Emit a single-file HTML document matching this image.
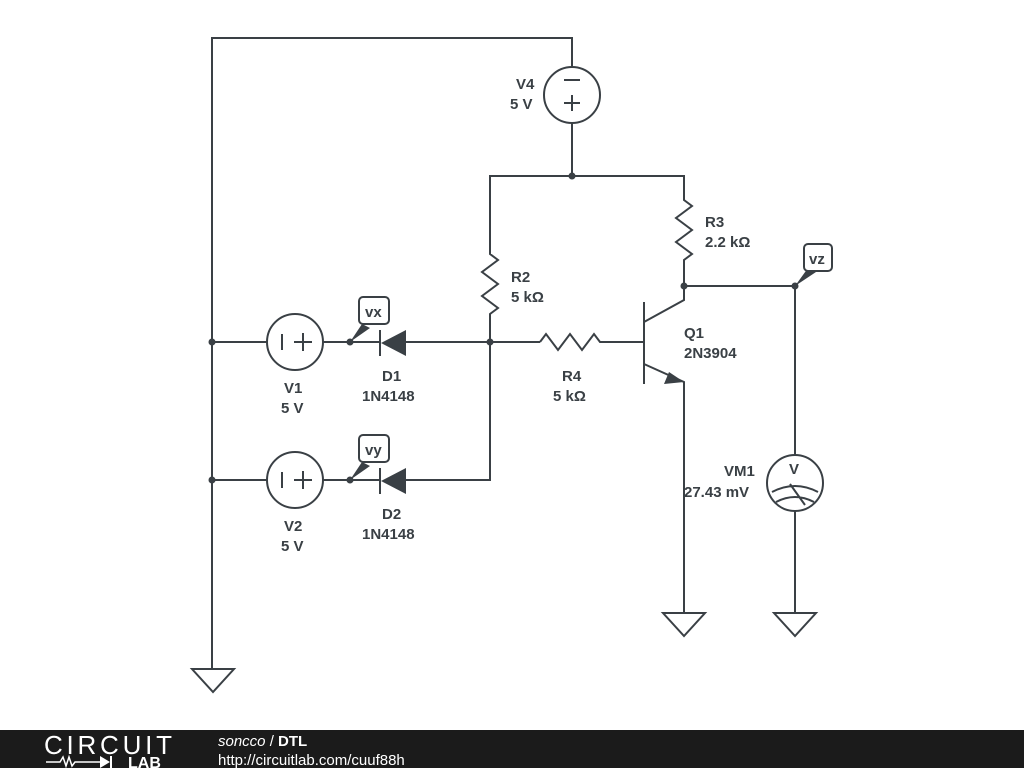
<!DOCTYPE html>
<html><head><style>
body{margin:0;background:#fff;width:1024px;height:768px;overflow:hidden;font-family:"Liberation Sans",sans-serif}
svg text{font-family:"Liberation Sans",sans-serif;font-weight:bold;font-size:15px;fill:#3a4045}
</style></head><body>
<svg width="1024" height="768" xmlns="http://www.w3.org/2000/svg">
<g stroke="#3a4045" stroke-width="2" fill="none">
<polyline points="212,668 212,38 572,38 572,67"/>
<polygon points="192,669 234,669 213,692"/>
<circle cx="572" cy="95" r="28"/>
<line x1="564" y1="80" x2="580" y2="80"/>
<line x1="564" y1="103" x2="580" y2="103"/><line x1="572" y1="95" x2="572" y2="111"/>
<line x1="572" y1="123" x2="572" y2="176"/>
<polyline points="490,250 490,176 684,176 684,195"/>
<polyline points="684,195 684,200 692,206 676,218 692,230 676,242 692,254 684,260 684,300 644,322"/>
<line x1="684" y1="286" x2="795" y2="286"/>
<polyline points="490,250 490,254 498,260 482,272 498,284 482,296 498,308 490,314 490,480 406,480"/>
<line x1="212" y1="342" x2="267" y2="342"/>
<circle cx="295" cy="342" r="28"/>
<line x1="282" y1="334" x2="282" y2="350"/><line x1="294" y1="342" x2="312" y2="342"/><line x1="303" y1="333" x2="303" y2="351"/>
<line x1="323" y1="342" x2="380" y2="342"/>
<line x1="380" y1="330" x2="380" y2="356"/>
<line x1="406" y1="342" x2="540" y2="342"/>
<polyline points="540,342 546,334 558,350 570,334 582,350 594,334 600,342 644,342"/>
<line x1="644" y1="302" x2="644" y2="384"/>
<polyline points="644,364 684,382 684,612"/>
<line x1="212" y1="480" x2="267" y2="480"/>
<circle cx="295" cy="480" r="28"/>
<line x1="282" y1="472" x2="282" y2="488"/><line x1="294" y1="480" x2="312" y2="480"/><line x1="303" y1="471" x2="303" y2="489"/>
<line x1="323" y1="480" x2="380" y2="480"/>
<line x1="380" y1="468" x2="380" y2="494"/>
<line x1="795" y1="286" x2="795" y2="455"/>
<circle cx="795" cy="483" r="28"/>
<line x1="795" y1="511" x2="795" y2="612"/>
<path d="M772,492 Q795,480 818,492 M776,502 Q795,492 814,502 M790,484 L805,505"/>
<polygon points="663,613 705,613 684,636"/>
<polygon points="774,613 816,613 795,636"/>
</g>
<g fill="#3a4045">
<polygon points="406,330 406,356 381,343"/>
<polygon points="406,468 406,494 381,481"/>
<polygon points="684,382 664,384 669,372"/>
<circle cx="572" cy="176" r="3.5"/><circle cx="684" cy="286" r="3.5"/><circle cx="795" cy="286" r="3.5"/>
<circle cx="490" cy="342" r="3.5"/><circle cx="212" cy="342" r="3.5"/><circle cx="212" cy="480" r="3.5"/>
<circle cx="350" cy="342" r="3.5"/><circle cx="350" cy="480" r="3.5"/>
<polygon points="350,342 362,324 370,328"/><polygon points="350,480 362,462 370,466"/>
<polygon points="795,286 808,268 816,272"/>
</g>
<g stroke="#3a4045" stroke-width="2" fill="#fff">
<rect x="359" y="297" width="30" height="27" rx="4"/>
<rect x="359" y="435" width="30" height="27" rx="4"/>
<rect x="804" y="244" width="28" height="27" rx="4"/>
</g>
<text x="365" y="317">vx</text><text x="365" y="455">vy</text><text x="809" y="264">vz</text>
<text x="789" y="474" font-size="16">V</text>
<text x="516" y="89">V4</text><text x="510" y="109">5 V</text>
<text x="705" y="227">R3</text><text x="705" y="247">2.2 kΩ</text>
<text x="511" y="282">R2</text><text x="511" y="302">5 kΩ</text>
<text x="684" y="338">Q1</text><text x="684" y="358">2N3904</text>
<text x="562" y="381">R4</text><text x="553" y="401">5 kΩ</text>
<text x="284" y="393">V1</text><text x="281" y="413">5 V</text>
<text x="382" y="381">D1</text><text x="362" y="401">1N4148</text>
<text x="284" y="531">V2</text><text x="281" y="551">5 V</text>
<text x="382" y="519">D2</text><text x="362" y="539">1N4148</text>
<text x="724" y="476">VM1</text><text x="684" y="497">27.43 mV</text>
<rect x="0" y="730" width="1024" height="38" fill="#1b1b1b"/>
<text x="44" y="754" style="font-weight:normal;font-size:26px;fill:#fff" textLength="128">CIRCUIT</text>
<text x="128" y="768" style="font-size:16px;fill:#fff">LAB</text>
<polyline points="46,762 60,762 63,757 66,766 69,757 72,766 75,762 100,762" stroke="#fff" stroke-width="1.5" fill="none"/>
<polygon points="100,756 100,768 110,762" fill="#fff"/><line x1="111" y1="756" x2="111" y2="768" stroke="#fff" stroke-width="2"/>
<text x="218" y="746" style="font-weight:normal;font-size:15px;fill:#fff"><tspan font-style="italic">soncco</tspan> / <tspan font-weight="bold">DTL</tspan></text>
<text x="218" y="765" style="font-weight:normal;font-size:15px;fill:#fff">http://circuitlab.com/cuuf88h</text>
</svg>
</body></html>
